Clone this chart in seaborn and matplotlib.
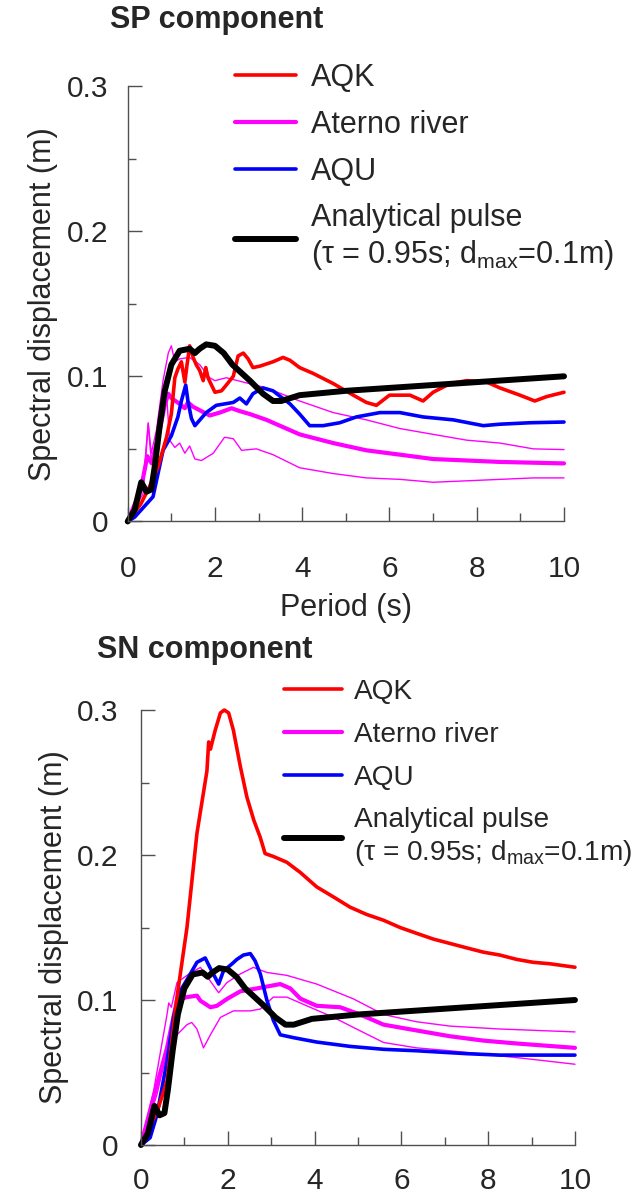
import numpy as np
import pandas as pd
import seaborn as sns
import matplotlib
matplotlib.use("Agg")
import matplotlib.pyplot as plt
from matplotlib.lines import Line2D
from matplotlib.ticker import MultipleLocator

# ---------------- data ----------------
# Analytical pulse (same in both panels)
pulse_T = [0, 0.16, 0.31, 0.43, 0.54, 0.62, 0.73, 0.85, 1.0, 1.19, 1.42, 1.54, 1.65, 1.80, 2.0, 2.2,
           2.4, 2.8, 3.1, 3.33, 3.52, 3.94, 5, 6, 7, 8, 9, 10]
pulse_D = [0, 0.008, 0.027, 0.0205, 0.022, 0.038, 0.065, 0.090, 0.108, 0.1176, 0.119, 0.116, 0.119, 0.122,
           0.121, 0.116, 0.108, 0.097, 0.088, 0.083, 0.083, 0.087, 0.090, 0.092, 0.094, 0.096, 0.098, 0.100]

# ---- SP component ----
sp_aqk_T = [0, 0.3, 0.5, 0.7, 0.89, 1.0, 1.08, 1.15, 1.23, 1.31, 1.36, 1.42, 1.5, 1.57, 1.65, 1.73, 1.79,
            1.84, 2.0, 2.15, 2.26, 2.42, 2.53, 2.65, 2.76, 2.87, 3.03, 3.33, 3.56, 3.72, 3.94, 4.25, 4.71,
            5.17, 5.47, 5.70, 6.0, 6.47, 6.77, 7.0, 7.39, 7.77, 8.23, 8.53, 8.99, 9.33, 9.6, 10]
sp_aqk_D = [0, 0.012, 0.024, 0.038, 0.058, 0.074, 0.099, 0.105, 0.110, 0.096, 0.108, 0.121, 0.113, 0.108,
            0.104, 0.097, 0.106, 0.099, 0.089, 0.090, 0.094, 0.100, 0.114, 0.116, 0.112, 0.106, 0.107,
            0.110, 0.113, 0.111, 0.106, 0.102, 0.095, 0.087, 0.082, 0.080, 0.087, 0.087, 0.083, 0.089,
            0.095, 0.097, 0.096, 0.092, 0.087, 0.083, 0.086, 0.089]

sp_aqu_T = [0, 0.16, 0.58, 0.81, 1.0, 1.15, 1.23, 1.33, 1.38, 1.46, 1.54, 1.8, 2.03, 2.42, 2.57, 2.72,
            2.87, 3.1, 3.33, 3.72, 3.94, 4.17, 4.48, 4.86, 5.24, 5.78, 6.24, 6.77, 7.46, 8.15, 8.53, 9.22, 10]
sp_aqu_D = [0, 0.003, 0.017, 0.049, 0.059, 0.072, 0.083, 0.094, 0.083, 0.071, 0.066, 0.075, 0.080, 0.082,
            0.085, 0.081, 0.088, 0.092, 0.090, 0.081, 0.074, 0.066, 0.066, 0.068, 0.072, 0.075, 0.075,
            0.072, 0.070, 0.066, 0.067, 0.068, 0.0685]

sp_ate_T = [0, 0.3, 0.45, 0.55, 0.7, 0.85, 0.93, 1.0, 1.19, 1.31, 1.38, 1.5, 1.88, 2.11, 2.38, 2.57, 2.8,
            3.18, 3.94, 4.71, 5.47, 6.24, 7.0, 7.77, 8.53, 10]
sp_ate_D = [0, 0.022, 0.045, 0.040, 0.058, 0.080, 0.088, 0.085, 0.081, 0.078, 0.082, 0.079, 0.073, 0.075,
            0.078, 0.076, 0.074, 0.070, 0.060, 0.054, 0.049, 0.046, 0.043, 0.042, 0.041, 0.040]

sp_ate_hi_T = [0, 0.35, 0.47, 0.54, 0.66, 0.81, 0.93, 1.0, 1.08, 1.19, 1.42, 1.65, 1.88, 2.0, 2.26, 2.65,
               3.18, 3.94, 4.71, 5.47, 6.24, 7.0, 7.77, 8.53, 9.3, 10]
sp_ate_hi_D = [0, 0.024, 0.068, 0.047, 0.063, 0.097, 0.116, 0.121, 0.110, 0.112, 0.113, 0.108, 0.099,
               0.097, 0.099, 0.096, 0.092, 0.083, 0.075, 0.070, 0.064, 0.060, 0.056, 0.054, 0.050, 0.0495]

sp_ate_lo_T = [0, 0.35, 0.47, 0.54, 0.66, 0.81, 0.89, 0.96, 1.08, 1.19, 1.31, 1.42, 1.54, 1.69, 1.96,
               2.22, 2.42, 2.61, 2.95, 3.33, 3.94, 4.71, 5.47, 6.24, 7.0, 7.77, 9.3, 10]
sp_ate_lo_D = [0, 0.019, 0.067, 0.042, 0.058, 0.074, 0.088, 0.056, 0.051, 0.054, 0.047, 0.052, 0.043,
               0.042, 0.047, 0.058, 0.057, 0.049, 0.050, 0.046, 0.037, 0.033, 0.030, 0.029, 0.027, 0.028,
               0.030, 0.030]

# ---- SN component ----
sn_aqk_T = [0, 0.37, 0.6, 0.83, 1.06, 1.29, 1.52, 1.56, 1.6, 1.71, 1.83, 1.92, 2.02, 2.13, 2.29, 2.44,
            2.6, 2.75, 2.86, 3.05, 3.36, 3.67, 4.05, 4.44, 4.82, 5.2, 5.59, 5.97, 6.35, 6.74, 7.12, 7.5,
            7.89, 8.27, 8.66, 9.04, 9.42, 10]
sn_aqk_D = [0, 0.023, 0.044, 0.102, 0.150, 0.215, 0.258, 0.278, 0.273, 0.286, 0.298, 0.300, 0.298,
            0.286, 0.261, 0.240, 0.224, 0.212, 0.201, 0.199, 0.195, 0.188, 0.178, 0.171, 0.164, 0.159,
            0.155, 0.150, 0.146, 0.142, 0.139, 0.136, 0.133, 0.131, 0.128, 0.126, 0.125, 0.1226]

sn_aqu_T = [0, 0.21, 0.37, 0.6, 0.75, 0.9, 1.06, 1.29, 1.48, 1.63, 1.79, 1.9, 2.1, 2.21, 2.36, 2.52,
            2.63, 2.75, 2.9, 3.05, 3.21, 3.52, 4.05, 4.82, 5.59, 6.35, 7.5, 8.27, 10]
sn_aqu_D = [0, 0.005, 0.021, 0.058, 0.088, 0.106, 0.114, 0.126, 0.129, 0.120, 0.111, 0.120, 0.125,
            0.128, 0.131, 0.132, 0.127, 0.118, 0.100, 0.086, 0.076, 0.074, 0.071, 0.068, 0.066, 0.065,
            0.063, 0.062, 0.062]

sn_ate_T = [0, 0.29, 0.6, 0.83, 1.06, 1.29, 1.37, 1.6, 1.75, 1.98, 2.29, 2.67, 3.21, 3.44, 3.67, 4.05,
            4.59, 5.05, 5.59, 6.35, 7.12, 7.89, 8.66, 10]
sn_ate_D = [0, 0.033, 0.067, 0.100, 0.102, 0.103, 0.0995, 0.095, 0.096, 0.1007, 0.106, 0.108, 0.111,
            0.108, 0.101, 0.096, 0.095, 0.090, 0.083, 0.079, 0.075, 0.072, 0.070, 0.067]

sn_ate_hi_T = [0, 0.29, 0.6, 0.64, 0.7, 0.83, 1.06, 1.37, 1.6, 1.79, 1.98, 2.29, 2.59, 2.9, 3.36, 4.05,
               4.9, 5.59, 6.35, 7.12, 8.27, 10]
sn_ate_hi_D = [0, 0.037, 0.090, 0.098, 0.095, 0.112, 0.117, 0.1225, 0.113, 0.105, 0.112, 0.118, 0.1225,
               0.119, 0.117, 0.111, 0.1007, 0.090, 0.085, 0.082, 0.080, 0.078]

sn_ate_lo_T = [0, 0.37, 0.6, 0.83, 1.06, 1.17, 1.29, 1.44, 1.6, 1.83, 2.13, 2.52, 2.75, 3.05, 3.36,
               3.82, 4.44, 4.9, 5.59, 6.35, 7.12, 8.27, 9.04, 10]
sn_ate_lo_D = [0, 0.035, 0.065, 0.076, 0.083, 0.0845, 0.080, 0.067, 0.076, 0.088, 0.0925, 0.0925,
               0.0938, 0.102, 0.102, 0.096, 0.088, 0.081, 0.0707, 0.067, 0.065, 0.0615, 0.059, 0.0557]

legend_labels = ["AQK", "Aterno river", "AQU",
                 "Analytical pulse\n($\\tau$ = 0.95s; d$_{\\mathregular{max}}$=0.1m)"]
titles = ["SP component", "SN component"]
x_ticks = [0, 2, 4, 6, 8, 10]
y_ticks = [0, 0.1, 0.2, 0.3]
y_tick_labels = ["0", "0.1", "0.2", "0.3"]

# ---------------- styling ----------------
sns.set_theme(style="white")
plt.rcParams["font.family"] = ["Liberation Sans", "DejaVu Sans"]
plt.rcParams["mathtext.fontset"] = "custom"
plt.rcParams["mathtext.rm"] = "Liberation Sans"
plt.rcParams["mathtext.it"] = "Liberation Sans"

RED, MAG, BLUE, BLACK = "#FF0000", "#FF00FF", "#0000FF", "#000000"
FS = 22
TFS = 21.5
SPINE = "#505050"
LW = {"thin": 1.0, "ate": 3.0, "aqu": 2.6, "aqk": 2.6, "pulse": 4.3}

fig = plt.figure(figsize=(6.44, 11.96), dpi=100)
ax_top = fig.add_axes([0.1983, 0.5640, 0.6775, 0.3641])
ax_bot = fig.add_axes([0.2189, 0.04264, 0.6739, 0.3637])

panels = [
    (ax_top, sp_aqk_T, sp_aqk_D, sp_aqu_T, sp_aqu_D, sp_ate_T, sp_ate_D,
     sp_ate_hi_T, sp_ate_hi_D, sp_ate_lo_T, sp_ate_lo_D),
    (ax_bot, sn_aqk_T, sn_aqk_D, sn_aqu_T, sn_aqu_D, sn_ate_T, sn_ate_D,
     sn_ate_hi_T, sn_ate_hi_D, sn_ate_lo_T, sn_ate_lo_D),
]

def draw(ax, x, y, color, lw):
    sns.lineplot(x=x, y=y, ax=ax, color=color, linewidth=lw, estimator=None,
                 sort=False, legend=False, clip_on=False, solid_joinstyle="round")

for (ax, kT, kD, uT, uD, aT, aD, hT, hD, lT, lD) in panels:
    draw(ax, hT, hD, MAG, LW["thin"])
    draw(ax, lT, lD, MAG, LW["thin"])
    draw(ax, aT, aD, MAG, LW["ate"])
    draw(ax, uT, uD, BLUE, LW["aqu"])
    draw(ax, kT, kD, RED, LW["aqk"])
    draw(ax, pulse_T, pulse_D, BLACK, LW["pulse"])

    ax.set_xlim(0, 10)
    ax.set_ylim(0, 0.3)
    ax.set_xticks(x_ticks)
    ax.set_xticklabels([str(t) for t in x_ticks])
    ax.set_yticks(y_ticks)
    ax.set_yticklabels(y_tick_labels)
    ax.xaxis.set_minor_locator(MultipleLocator(1))
    ax.yaxis.set_minor_locator(MultipleLocator(0.05))
    for s in ["top", "right"]:
        ax.spines[s].set_visible(False)
    for s in ["left", "bottom"]:
        ax.spines[s].set_color(SPINE)
        ax.spines[s].set_linewidth(1.0)
    ax.tick_params(which="major", direction="in", length=10, width=1.0, color=SPINE,
                   labelsize=TFS, left=True, bottom=True)
    ax.tick_params(which="minor", direction="in", length=6, width=1.0, color=SPINE,
                   left=True, bottom=True)
    ax.set_ylabel("Spectral displacement (m)", fontsize=FS, labelpad=6)
    ax.grid(False)

ax_top.tick_params(axis="x", which="major", pad=24)
ax_bot.tick_params(axis="x", which="major", pad=16)
ax_top.tick_params(axis="y", which="major", pad=14)
ax_bot.tick_params(axis="y", which="major", pad=16)
ax_top.set_xlabel("Period (s)", fontsize=FS, labelpad=7)

handles = [Line2D([], [], color=RED, lw=LW["aqk"]), Line2D([], [], color=MAG, lw=LW["ate"]),
           Line2D([], [], color=BLUE, lw=LW["aqu"]), Line2D([], [], color=BLACK, lw=LW["pulse"])]
for ax, anchor, hl, fs, tp in [(ax_top, (235 / 644, 1 - 63 / 1196), 2.0, FS, 0.5),
                               (ax_bot, (284 / 644, 1 - 679 / 1196), 2.05, 20.2, 0.45)]:
    ax.legend(handles, legend_labels, loc="upper left", bbox_to_anchor=anchor,
              bbox_transform=fig.transFigure, frameon=False, fontsize=fs,
              handlelength=hl, handletextpad=tp, labelspacing=0.55 * FS / fs,
              borderpad=0, borderaxespad=0)

fig.text(110 / 644, 1 - 20 / 1196, titles[0], fontsize=22, fontweight="bold", va="center", ha="left")
fig.text(97 / 644, 1 - 650 / 1196, titles[1], fontsize=22, fontweight="bold", va="center", ha="left")

fig.savefig("out.png", dpi=100)
